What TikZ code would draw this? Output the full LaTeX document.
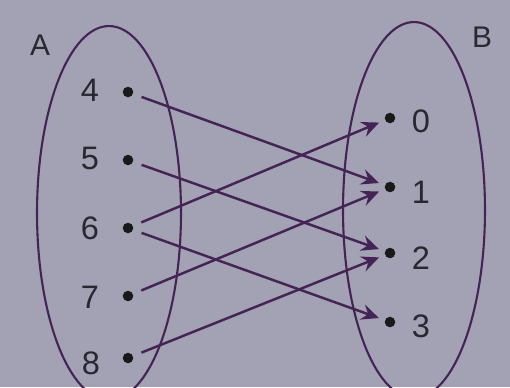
\documentclass[tikz,border=0pt]{standalone}
\usepackage{fontspec}
\setmainfont{Liberation Sans}
\usetikzlibrary{arrows.meta}
\definecolor{bg}{RGB}{162,162,180}
\definecolor{ink}{RGB}{68,36,84}
\definecolor{txt}{RGB}{40,40,48}
\tikzset{
  dotnode/.style={circle,fill=black!90,inner sep=0pt,minimum size=6pt},
  numlabel/.style={text=txt,font=\fontsize{18.5}{22}\selectfont,inner sep=0pt},
  setlabel/.style={text=txt,font=\fontsize{17}{20}\selectfont,inner sep=0pt},
  setoval/.style={draw=ink,line width=1.2pt},
  maparrow/.style={draw=ink,line width=1.4pt,-{Stealth[length=10pt,width=9pt,inset=3.5pt]},shorten <=5pt,shorten >=3.5pt}
}
\begin{document}
\begin{tikzpicture}[x=0.02cm,y=-0.02cm]
\clip (0,0) rectangle (510,387);
\fill[bg] (0,0) rectangle (510,387);
% sets
\draw[setoval] (109,213) ellipse [x radius=1.44cm, y radius=3.74cm];
\draw[setoval] (414,210) ellipse [x radius=1.42cm, y radius=3.76cm];
\node[setlabel] (labA) at (40,45) {A};
\node[setlabel] (labB) at (482,37) {B};
% domain
\node[dotnode] (a4) at (128,92) {};
\node[dotnode] (a5) at (128,160) {};
\node[dotnode] (a6) at (128,228) {};
\node[dotnode] (a7) at (128,296) {};
\node[dotnode] (a8) at (128,358) {};
\node[numlabel] (t4) at (90,90) {4};
\node[numlabel] (t5) at (90,158) {5};
\node[numlabel] (t6) at (90,228) {6};
\node[numlabel] (t7) at (90,297) {7};
\node[numlabel] (t8) at (91,363) {8};
% codomain
\node[dotnode] (b0) at (390,118) {};
\node[dotnode] (b1) at (390,187) {};
\node[dotnode] (b2) at (390,253) {};
\node[dotnode] (b3) at (390,322) {};
\node[numlabel] (u0) at (421,121) {0};
\node[numlabel] (u1) at (421,192) {1};
\node[numlabel] (u2) at (421,258) {2};
\node[numlabel] (u3) at (421,326) {3};
% mapping
\draw[maparrow] (a4) -- (b1);
\draw[maparrow] (a5) -- (b2);
\draw[maparrow] (a6) -- (b0);
\draw[maparrow] (a6) -- (b3);
\draw[maparrow] (a7) -- (b1);
\draw[maparrow] (a8) -- (b2);
\end{tikzpicture}
\end{document}
